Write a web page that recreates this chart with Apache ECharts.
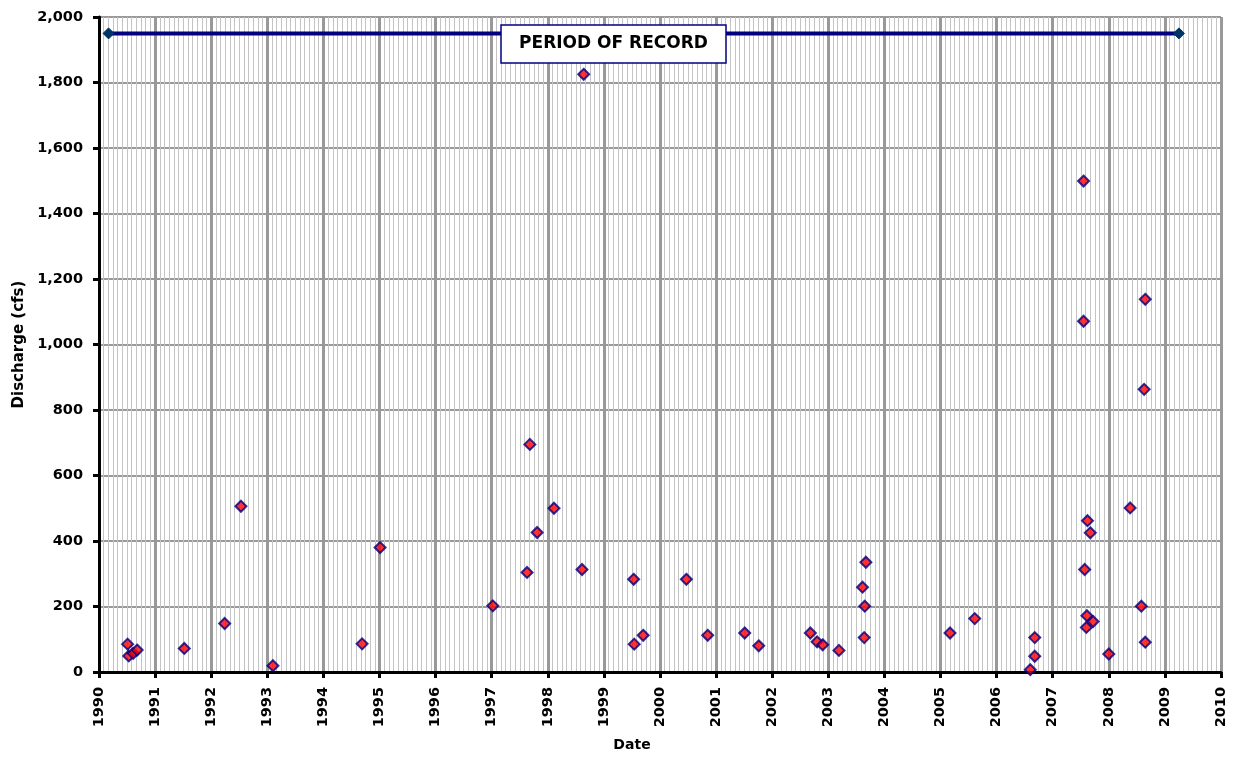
<!DOCTYPE html>
<html>
<head>
<meta charset="utf-8">
<script src="https://cdn.jsdelivr.net/npm/echarts@6/dist/echarts.min.js"></script>
<style>
html,body{margin:0;padding:0;background:#fff;}
#chart{width:1233px;height:761px;}
</style>
</head>
<body>
<div id="chart"></div>
<script>
// Measurement dates (decimal years) and discharge (cfs)
const dates = [1990.51,1990.53,1990.61,1990.68,1991.52,1992.24,1992.53,1993.10,1994.69,1995.01,
  1997.02,1997.63,1997.68,1997.81,1998.11,1998.61,1998.64,1999.53,1999.54,1999.70,
  2000.47,2000.85,2001.51,2001.76,2002.68,2002.80,2002.90,2003.19,2003.64,2003.65,
  2003.61,2003.67,2005.17,2005.61,2006.60,2006.68,2006.68,2007.55,2007.55,2007.57,
  2007.60,2007.61,2007.62,2007.67,2007.72,2008.00,2008.38,2008.58,2008.63,2008.65,2008.65];
const discharge = [85,49,57,67,72,148,506,19,86,380,
  202,304,695,426,500,313,1825,283,85,112,
  283,112,119,80,119,92,83,66,105,201,
  259,335,119,163,7,48,105,1499,1071,313,
  136,172,462,425,154,55,501,201,863,91,1138];
// Period of record
const periodDates = [1990.17, 2009.25];
const periodLevel = [1950, 1950];
const periodLabel = 'PERIOD OF RECORD';
// Axes
const xMin = 1990, xMax = 2010, xStep = 1;
const yMin = 0, yMax = 2000, yStep = 200;
const xTitle = 'Date', yTitle = 'Discharge (cfs)';

const FONT = 'DejaVu Sans';
const chart = echarts.init(document.getElementById('chart'), null, {renderer:'canvas'});
const pts = dates.map((d,i)=>[d, discharge[i]]);
const per = periodDates.map((d,i)=>[d, periodLevel[i]]);

chart.setOption({
  animation:false,
  backgroundColor:'#ffffff',
  grid:{left:99,right:12,top:17,bottom:89,containLabel:false},
  xAxis:{
    type:'value', min:xMin, max:xMax, interval:xStep,
    name:xTitle, nameLocation:'middle', nameGap:66,
    nameTextStyle:{fontFamily:FONT,fontWeight:'bold',fontSize:14,color:'#000',padding:[0,56,0,0]},
    axisLine:{show:true,onZero:false,lineStyle:{color:'#000',width:3}},
    axisTick:{show:true,inside:false,length:6,lineStyle:{color:'#000',width:3}},
    axisLabel:{rotate:90,margin:15,fontFamily:FONT,fontWeight:'bold',fontSize:14.5,color:'#000',
      formatter:v=>String(Math.round(v))},
    splitLine:{show:true,lineStyle:{color:'#999999',width:3}},
    minorTick:{show:false,splitNumber:12},
    minorSplitLine:{show:true,lineStyle:{color:'#c4c4c4',width:1}}
  },
  yAxis:{
    type:'value', min:yMin, max:yMax, interval:yStep,
    name:yTitle, nameLocation:'middle', nameGap:72, nameRotate:90,
    nameTextStyle:{fontFamily:FONT,fontWeight:'bold',fontSize:15,color:'#000'},
    axisLine:{show:true,onZero:false,lineStyle:{color:'#000',width:3}},
    axisTick:{show:true,inside:false,length:6,lineStyle:{color:'#000',width:3}},
    axisLabel:{margin:16,fontFamily:FONT,fontWeight:'bold',fontSize:14.5,color:'#000',
      formatter:v=>v.toLocaleString('en-US')},
    splitLine:{show:true,lineStyle:{color:'#999999',width:2}}
  },
  series:[
    {
      type:'line', data:per, symbol:'diamond', symbolSize:11, showSymbol:true,
      lineStyle:{color:'#000080',width:4},
      itemStyle:{color:'#003366',borderColor:'#003366',borderWidth:1},
      z:3
    },
    {
      type:'scatter', data:pts, symbol:'diamond', symbolSize:11,
      itemStyle:{color:'#ff0000',borderColor:'#000080',borderWidth:2},
      z:4
    }
  ],
  graphic:[
    {type:'rect', x:501, y:25, shape:{width:225,height:38},
     style:{fill:'#ffffff',stroke:'#000080',lineWidth:1.5}, z:10},
    {type:'text', x:613.5, y:44,
     style:{text:periodLabel,fill:'#000',fontFamily:FONT,fontWeight:'bold',fontSize:17,
            align:'center',verticalAlign:'middle'}, z:11}
  ]
});
</script>
</body>
</html>
